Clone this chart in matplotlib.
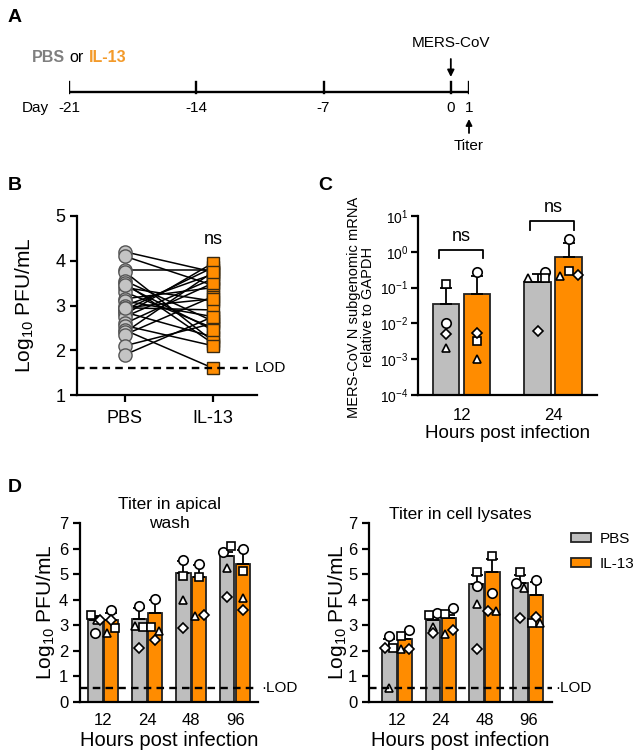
import matplotlib
matplotlib.use("Agg")
import matplotlib.pyplot as plt
import numpy as np
from matplotlib.patches import Patch
from matplotlib import font_manager

plt.rcParams['font.family'] = ['Liberation Sans', 'DejaVu Sans']
plt.rcParams['mathtext.fontset'] = 'custom'
plt.rcParams['mathtext.rm'] = 'Liberation Sans'
plt.rcParams['mathtext.it'] = 'Liberation Sans:italic'
plt.rcParams['mathtext.bf'] = 'Liberation Sans:bold'
plt.rcParams['mathtext.default'] = 'regular'

_names = {f.name for f in font_manager.fontManager.ttflist}
if 'Liberation Sans Narrow' in _names:
    A_FAMILY, A_FS = ['Liberation Sans Narrow', 'Liberation Sans'], 13
else:
    A_FAMILY, A_FS = ['Liberation Sans', 'DejaVu Sans'], 11

# ---------------- data ----------------
# Panel A timeline
days = [-21, -14, -7, 0, 1]
day_labels = ['-21', '-14', '-7', '0', '1']

# Panel B paired titers (log10 PFU/mL)
b_groups = ['PBS', 'IL-13']
pbs_b = [4.2, 4.1, 3.8, 3.75, 3.55, 3.5, 3.4, 3.3, 3.15, 3.1, 3.0, 2.95, 2.9,
         2.85, 2.8, 2.75, 2.6, 2.55, 2.45, 2.4, 2.35, 2.1, 1.9, 3.45, 2.95]
il13_b = [3.75, 3.45, 3.8, 2.2, 2.65, 2.15, 3.1, 2.5, 3.4, 2.75, 3.7, 2.9, 3.85,
          2.3, 3.95, 3.6, 3.5, 2.1, 1.6, 3.75, 3.2, 2.6, 2.75, 2.45, 3.15]
lod_b = 1.6

# Panel C: N sgRNA relative to GAPDH; points ordered circle, square, triangle, diamond
c_hours = ['12', '24']
c_pbs_mean = [0.035, 0.14]
c_pbs_top = [0.10, 0.245]
c_il13_mean = [0.068, 0.72]
c_il13_top = [0.21, 1.77]
c_pbs_pts = [[0.010, 0.13, 0.0021, 0.0052], [0.275, 0.18, 0.18, 0.0062]]
c_il13_pts = [[0.275, 0.0032, 0.0010, 0.0055], [2.33, 0.29, 0.21, 0.23]]

# Panel D
d_hours = ['12', '24', '48', '96']
lod_d = 0.56
apical_pbs_mean = [3.19, 3.26, 5.04, 5.70]
apical_pbs_top = [3.35, 3.68, 5.50, 5.85]
apical_il13_mean = [3.19, 3.48, 4.88, 5.40]
apical_il13_top = [3.50, 3.98, 5.35, 5.95]
apical_pbs_pts = [[2.71, 3.41, 3.22, 3.20], [3.75, 2.94, 2.99, 2.11],
                  [5.56, 4.92, 4.00, 2.89], [5.87, 6.09, 5.25, 4.10]]
apical_il13_pts = [[3.58, 2.89, 2.70, 3.22], [4.04, 2.94, 2.79, 2.42],
                   [5.40, 4.88, 3.36, 3.39], [5.99, 5.12, 4.06, 3.58]]

lysate_pbs_mean = [2.12, 3.22, 4.62, 4.65]
lysate_pbs_top = [2.45, 3.32, 4.98, 4.98]
lysate_il13_mean = [2.47, 3.29, 5.08, 4.19]
lysate_il13_top = [2.70, 3.40, 5.60, 4.70]
lysate_pbs_pts = [[2.58, 2.11, 0.55, 2.11], [3.48, 3.39, 2.93, 2.70],
                  [4.52, 5.08, 3.84, 2.08], [4.66, 5.08, 4.47, 3.29]]
lysate_il13_pts = [[2.80, 2.58, 2.08, 2.08], [3.67, 3.45, 2.67, 2.80],
                   [4.27, 5.69, 3.55, 3.55], [4.78, 3.10, 3.10, 3.32]]

# ---------------- style ----------------
GRAY = '#BEBEBE'
ORANGE = '#FF8C00'
MARKERS = ['o', 's', '^', 'D']
MSIZES = [6.8, 6.3, 6.3, 4.8]

# horizontal jitter of the four replicates inside each bar (circle, square, triangle, diamond)
c_pbs_jit = [[0, 0, 0, 0], [0.08, 0.08, -0.1, 0]]
c_il13_jit = [[0, 0, 0, 0], [0, 0, -0.1, 0.1]]
apical_pbs_jit = [[0, -0.1, 0.03, 0.1], [0, 0.09, -0.1, 0], [0, 0, 0, 0], [-0.1, 0.09, 0, 0]]
apical_il13_jit = [[0, 0.09, -0.1, 0], [0, -0.09, 0.09, 0], [0, 0, -0.09, 0.1], [0, 0, 0, 0]]
lysate_pbs_jit = [[0, 0.09, 0, -0.1], [0.09, -0.09, 0, 0], [0, 0, 0, 0], [-0.09, 0, 0.09, 0]]
lysate_il13_jit = [[0.09, -0.09, -0.09, 0.09], [0.09, -0.09, -0.09, 0.09], [0, 0, 0.09, -0.09], [0, -0.09, 0.09, 0]]

W, H = 636, 753
fig = plt.figure(figsize=(W / 100, H / 100), dpi=100)


def px_axes(left, top, right, bottom):
    return fig.add_axes([left / W, 1 - bottom / H, (right - left) / W, (bottom - top) / H])


def style_axes(ax, fs):
    for s in ['top', 'right']:
        ax.spines[s].set_visible(False)
    for s in ['left', 'bottom']:
        ax.spines[s].set_linewidth(1.6)
    ax.tick_params(width=1.6, length=5, labelsize=fs, color='black')


def bar_panel(ax, centers, pbs_mean, pbs_top, il13_mean, il13_top, pbs_pts, il13_pts,
              pbs_jit, il13_jit, width, off):
    for mean, top, pts, jit, col, sgn in [
            (pbs_mean, pbs_top, pbs_pts, pbs_jit, GRAY, -1),
            (il13_mean, il13_top, il13_pts, il13_jit, ORANGE, 1)]:
        xs = np.array(centers) + sgn * off
        ax.bar(xs, mean, width=width, color=col, edgecolor='#222222', linewidth=1.3, zorder=2)
        upper = np.array(top) - np.array(mean)
        ax.errorbar(xs, mean, yerr=[np.zeros(len(xs)), upper], fmt='none', ecolor='black',
                    elinewidth=1.3, capsize=4.5, capthick=1.3, zorder=3)
        for i, x in enumerate(xs):
            for k in range(4):
                ax.plot(x + jit[i][k], pts[i][k], marker=MARKERS[k], ms=MSIZES[k], mfc='white',
                        mec='black', mew=1.2, ls='none', zorder=4, clip_on=False)


# ---------------- Panel A ----------------
axa = px_axes(69, 30, 469, 160)
axa.set_xlim(-21, 1)
axa.set_ylim(160, 30)
axa.axis('off')
axa.plot([days[0], days[-1]], [92, 92], color='black', lw=1.7, solid_capstyle='butt')
for d, lab in zip(days, day_labels):
    axa.plot([d, d], [92.8, 82], color='black', lw=1.7)
    axa.text(d, 108, lab, ha='center', va='center', fontsize=A_FS, family=A_FAMILY)
fig.text(35 / W, 1 - 108 / H, 'Day', ha='center', va='center', fontsize=A_FS, family=A_FAMILY)
axa.text(0, 43, 'MERS-CoV', ha='center', va='center', fontsize=A_FS, family=A_FAMILY)
axa.annotate('', xy=(0, 77), xytext=(0, 59),
             arrowprops=dict(arrowstyle='-|>', lw=1.3, color='black', mutation_scale=10,
                             shrinkA=0, shrinkB=0))
axa.annotate('', xy=(1, 119), xytext=(1, 133),
             arrowprops=dict(arrowstyle='-|>', lw=1.3, color='black', mutation_scale=9,
                             shrinkA=0, shrinkB=0))
axa.text(1, 146, 'Titer', ha='center', va='center', fontsize=A_FS, family=A_FAMILY)

# "PBS or IL-13" as consecutive text pieces
renderer = fig.canvas.get_renderer()
x_cur = 32 / W
for piece, col, wt in [('PBS', '#7F7F7F', 'bold'), ('or', 'black', 'normal'), ('IL-13', '#F39A2A', 'bold')]:
    t = fig.text(x_cur, 1 - 58 / H, piece, color=col, fontweight=wt, fontsize=A_FS + 0.5,
                 family=A_FAMILY, va='center', ha='left')
    bb = t.get_window_extent(renderer=renderer)
    x_cur = (bb.x1 + 4.5) / W

# ---------------- Panel B ----------------
axb = px_axes(77, 216, 257, 395)
style_axes(axb, 13)
for p, q in zip(pbs_b, il13_b):
    axb.plot([0, 1], [p, q], color='black', lw=1.1, zorder=2)
axb.plot(np.zeros(len(pbs_b)), pbs_b, 'o', ms=9.5, mfc='#C4C4C4', mec='#555555', mew=1.0,
         ls='none', zorder=3)
axb.plot(np.ones(len(il13_b)), il13_b, 's', ms=8.2, mfc=ORANGE, mec='#3A2A10', mew=1.0,
         ls='none', zorder=3)
axb.axhline(lod_b, xmin=0, xmax=(1.4 + 0.545) / 2.045, color='black', ls=(0, (3.2, 2.2)), lw=1.7,
            zorder=4)
axb.text(1.47, lod_b, 'LOD', va='center', ha='left', fontsize=11, clip_on=False)
axb.text(1, 4.48, 'ns', ha='center', va='center', fontsize=13)
axb.set_xlim(-0.545, 1.5)
axb.set_ylim(1, 5)
axb.set_yticks([1, 2, 3, 4, 5])
axb.set_xticks([0, 1])
axb.set_xticklabels(b_groups)
axb.tick_params(axis='x', pad=6)
axb.set_ylabel('Log$_{10}$ PFU/mL', fontsize=15)
axb.yaxis.set_label_coords(-0.23, 0.5)

# ---------------- Panel C ----------------
axc = px_axes(418, 216, 597, 395)
style_axes(axc, 10)
axc.set_yscale('log')
c_centers = np.arange(len(c_hours))
bar_panel(axc, c_centers, c_pbs_mean, c_pbs_top, c_il13_mean, c_il13_top, c_pbs_pts, c_il13_pts,
          c_pbs_jit, c_il13_jit, 0.29, 0.17)
axc.set_ylim(1e-4, 10)
axc.set_xlim(-0.478, 1.48)
axc.yaxis.set_minor_locator(matplotlib.ticker.NullLocator())
axc.set_yticks([1e-4, 1e-3, 1e-2, 1e-1, 1, 10])
axc.tick_params(axis='y', pad=2)
axc.set_xticks(c_centers)
axc.set_xticklabels(c_hours, fontsize=12)
axc.tick_params(axis='x', length=0, pad=9)
# significance brackets
for c, ylow, yhigh, ytxt in zip(c_centers, [0.65, 4.0], [1.15, 7.2], [2.6, 17.8]):
    axc.plot([c - 0.25, c - 0.25, c + 0.23, c + 0.23], [ylow, yhigh, yhigh, ylow], color='black',
             lw=1.3, clip_on=False)
    axc.text(c, ytxt, 'ns', ha='center', va='center', fontsize=13, clip_on=False)
axc.set_xlabel('Hours post infection', fontsize=13.5)
axc.xaxis.set_label_coords(0.5, -0.17)
axc.set_ylabel('MERS-CoV N subgenomic mRNA\nrelative to GAPDH', fontsize=10.5, linespacing=1.0)
axc.yaxis.set_label_coords(-0.24, 0.49)

# ---------------- Panel D ----------------
d_centers = np.arange(len(d_hours))
axd1 = px_axes(80, 523, 258, 702)
style_axes(axd1, 12)
bar_panel(axd1, d_centers, apical_pbs_mean, apical_pbs_top, apical_il13_mean, apical_il13_top,
          apical_pbs_pts, apical_il13_pts, apical_pbs_jit, apical_il13_jit, 0.33, 0.18)
axd1.set_xlim(-0.53, 3.52)

axd2 = px_axes(369, 523, 552, 702)
style_axes(axd2, 12)
bar_panel(axd2, d_centers, lysate_pbs_mean, lysate_pbs_top, lysate_il13_mean, lysate_il13_top,
          lysate_pbs_pts, lysate_il13_pts, lysate_pbs_jit, lysate_il13_jit, 0.33, 0.18)
axd2.set_xlim(-0.645, 3.545)

for ax, title in [(axd1, 'Titer in apical\nwash'), (axd2, 'Titer in cell lysates')]:
    ax.set_ylim(0, 7)
    ax.set_yticks(range(0, 8))
    ax.set_xticks(d_centers)
    ax.set_xticklabels(d_hours)
    ax.tick_params(axis='x', length=0, pad=8)
    ax.axhline(lod_d, color='black', ls=(0, (3.2, 2.2)), lw=1.7, zorder=5)
    ax.text(1.02, lod_d, '·LOD', transform=ax.get_yaxis_transform(), va='center', ha='left',
            fontsize=11, clip_on=False)
    ax.set_xlabel('Hours post infection', fontsize=14.5)
    ax.xaxis.set_label_coords(0.5, -0.16)
    ax.set_ylabel('Log$_{10}$ PFU/mL', fontsize=15)
    ax.text(0.5, 1.05, title, transform=ax.transAxes, ha='center', va='center', fontsize=12.5,
            linespacing=1.3)
axd1.yaxis.set_label_coords(-0.13, 0.5)
axd2.yaxis.set_label_coords(-0.11, 0.5)

handles = [Patch(facecolor=GRAY, edgecolor='#222222', linewidth=1.3, label='PBS'),
           Patch(facecolor=ORANGE, edgecolor='#222222', linewidth=1.3, label='IL-13')]
fig.legend(handles=handles, loc='upper left', bbox_to_anchor=(571 / W, 1 - 532 / H), frameon=False,
           fontsize=11, handlelength=1.3, handleheight=0.55, handletextpad=0.6, labelspacing=0.7,
           borderaxespad=0, borderpad=0)

# panel letters
for lab, x, y in [('A', 8, 18), ('B', 8, 185), ('C', 318, 185), ('D', 8, 488)]:
    fig.text(x / W, 1 - y / H, lab, fontsize=14, fontweight='bold', va='center', ha='left')

fig.savefig('out.png', dpi=100)
